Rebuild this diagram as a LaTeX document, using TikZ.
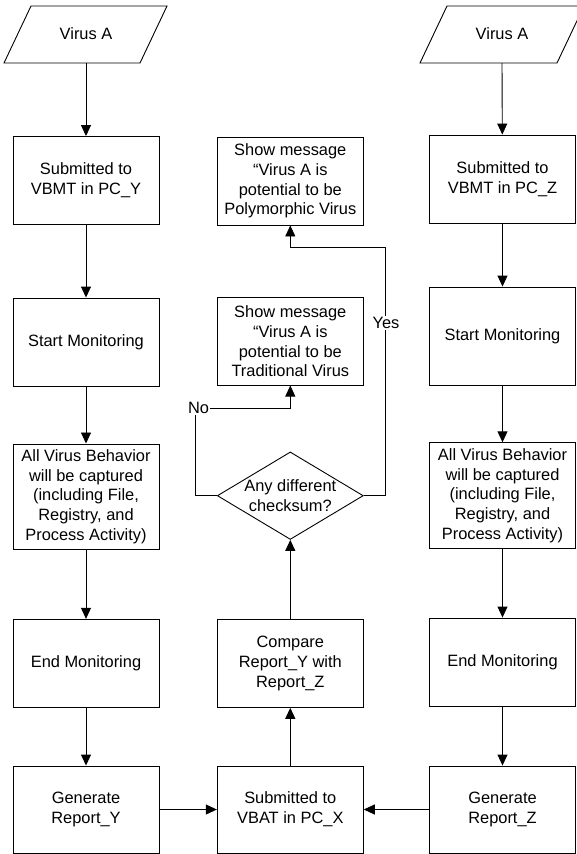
\documentclass[tikz,border=0pt]{standalone}
\usepackage{fontspec}
\setmainfont{Liberation Sans}
\usetikzlibrary{arrows.meta,shapes.geometric}
\begin{document}
\begin{tikzpicture}[x=1pt,y=-1pt,
  every node/.style={font=\fontsize{16.4}{19.7}\selectfont},
  procbox/.style={draw,line width=0.9pt,rectangle,minimum width=146pt,minimum height=88pt,inner sep=0pt,align=center},
  tallbox/.style={procbox,minimum height=105.5pt},
  decision/.style={draw,line width=0.9pt,diamond,minimum width=146pt,minimum height=87.5pt,inner sep=0pt,align=center,aspect=1.67},
  iobox/.style={draw,line width=0.9pt},
  flow/.style={line width=0.9pt,-{Triangle[width=10pt,length=11pt]}},
  lbl/.style={fill=white,inner sep=1pt}]
\useasboundingbox (0,0) rectangle (577,854);
% input parallelograms
\draw[iobox] (31,6) -- (167,6) -- (140,63) -- (4,63) -- cycle;
\node (inL) at (86,34) {Virus A};
\coordinate (inLb) at (86,63);
\draw[iobox] (447,6) -- (584,6) -- (557,63) -- (420,63) -- cycle;
\node (inR) at (502,34) {Virus A};
\coordinate (inRb) at (502,63);
% left column
\node[procbox] (L1) at (86,180.5) {Submitted to\\VBMT in PC\_Y};
\node[procbox] (L2) at (86,342) {Start Monitoring};
\node[tallbox] (L3) at (86,496.7) {All Virus Behavior\\will be captured\\(including File,\\Registry, and\\Process Activity)};
\node[procbox] (L4) at (86,663.3) {End Monitoring};
\node[procbox,minimum height=87pt] (L5) at (86,809.5) {Generate\\Report\_Y};
% right column
\node[procbox] (R1) at (502.5,179) {Submitted to\\VBMT in PC\_Z};
\node[procbox,minimum height=98pt] (R2) at (502.5,336) {Start Monitoring};
\node[tallbox] (R3) at (502.5,495.5) {All Virus Behavior\\will be captured\\(including File,\\Registry, and\\Process Activity)};
\node[procbox] (R4) at (502.5,662) {End Monitoring};
\node[procbox,minimum height=87pt] (R5) at (502.5,809.5) {Generate\\Report\_Z};
% center column
\node[procbox] (P) at (290.3,181) {Show message\\“Virus A is\\potential to be\\Polymorphic Virus};
\node[procbox,minimum height=87.5pt] (T) at (290.3,341.3) {Show message\\“Virus A is\\potential to be\\Traditional Virus};
\node[decision] (D) at (290.3,495.7) {Any different\\checksum?};
\node[procbox,minimum height=87.5pt] (C) at (290.3,663.6) {Compare\\Report\_Y with\\Report\_Z};
\node[procbox,minimum height=87pt] (V) at (290.3,809.5) {Submitted to\\VBAT in PC\_X};
% connectors left
\draw[flow] (inLb) -- (L1);
\draw[flow] (L1) -- (L2);
\draw[flow] (L2) -- (L3);
\draw[flow] (L3) -- (L4);
\draw[flow] (L4) -- (L5);
% connectors right
\draw[flow] (inRb) -- (R1);
\draw[flow] (R1) -- (R2);
\draw[flow] (R2) -- (R3);
\draw[flow] (R3) -- (R4);
\draw[flow] (R4) -- (R5);
% center
\draw[flow] (L5) -- (V);
\draw[flow] (R5) -- (V);
\draw[flow] (V) -- (C);
\draw[flow] (C) -- (D);
\coordinate (yesc) at (385.5,247);
\coordinate (noc) at (195.5,408);
\draw[flow] (D.east) -| (yesc) -| (P.south);
\draw[flow] (D.west) -| (noc) -| (T.south);
\node[lbl] (yes) at (386,323) {Yes};
\node[lbl] (no) at (198.5,408) {No};
\end{tikzpicture}
\end{document}
